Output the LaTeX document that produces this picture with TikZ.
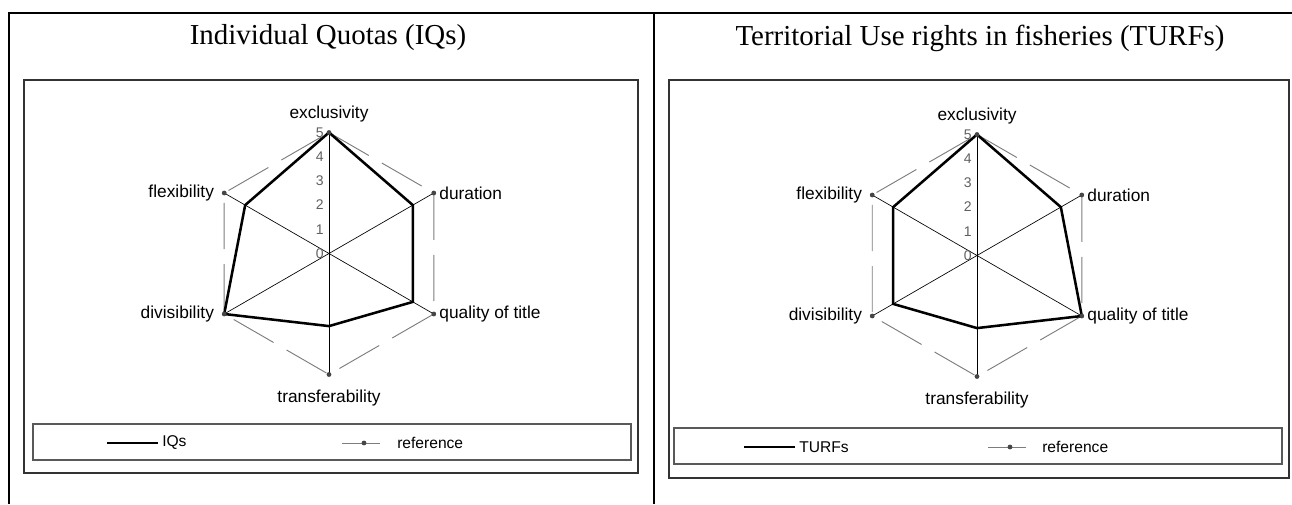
\documentclass[tikz,border=0pt]{standalone}
\usepackage{fontspec}
\setmainfont{Liberation Serif}
\setsansfont{Liberation Sans}
\usepackage{xcolor}
\definecolor{refgray}{RGB}{125,125,125}
\definecolor{markgray}{RGB}{70,70,70}
\definecolor{tickgray}{RGB}{95,95,95}
\usepackage{tikz}
\usetikzlibrary{positioning}
\tikzset{
  panel rule/.style={line width=0.9pt, black},
  chart frame/.style={draw, line width=1.2pt, black!80},
  legend frame/.style={draw, line width=0.8pt, black!65},
  radar spoke/.style={line width=0.5pt, black},
  radar data/.style={line width=1.9pt, black, line join=miter},
  radar ref/.style={line width=0.7pt, refgray, dash pattern=on 34.5pt off 11.25pt},
  ref mark/.style={circle, fill=markgray, inner sep=0pt, minimum size=3.6pt},
  radar label/.style={font=\sffamily\fontsize{13}{15}\selectfont, inner sep=0pt},
  tick label/.style={font=\sffamily\fontsize{10.5}{12}\selectfont, text=tickgray, inner sep=0pt, anchor=east},
  legend text/.style={font=\sffamily\fontsize{11.7}{14}\selectfont, inner sep=0pt, anchor=west},
  panel title/.style={font=\fontsize{21.7}{26}\selectfont, inner sep=0pt},
}

\begin{document}
\begin{tikzpicture}[x=0.75pt, y=0.75pt]
  \useasboundingbox (0,0) rectangle (1292,504);
  % table rules
  \draw[panel rule] (9,0) -- (9,491) -- (1292,491);
  \draw[panel rule] (654,0) -- (654,491);
  \node[panel title] (iq-title) at (328,466) {Individual Quotas (IQs)};
  \node[panel title] (turf-title) at (980,466) {Territorial Use rights in fisheries (TURFs)};
  % chart areas and legends
  \draw[chart frame] (24,31) rectangle (638,424);
  \draw[chart frame] (669,26) rectangle (1289,424);
  \draw[legend frame] (33,44) rectangle (631,80);
  \draw[legend frame] (674,40) rectangle (1282,76);

  % left chart: IQs
  \begin{scope}[shift={(329,250.5)}]
    \coordinate (iq-ex) at (90:121);
    \coordinate (iq-du) at (30:121);
    \coordinate (iq-qu) at (-30:121);
    \coordinate (iq-tr) at (-90:121);
    \coordinate (iq-di) at (210:121);
    \coordinate (iq-fl) at (150:121);
    \draw[radar spoke] (iq-ex) -- (iq-tr);
    \draw[radar spoke] (iq-du) -- (iq-di);
    \draw[radar spoke] (iq-qu) -- (iq-fl);
    \draw[radar ref] (iq-ex) -- (iq-du) -- (iq-qu) -- (iq-tr) -- (iq-di) -- (iq-fl) -- cycle;
    \draw[radar data] (90:121) -- (30:96.8) -- (-30:96.8) -- (-90:72.6) -- (210:121) -- (150:96.8) -- cycle;
    \foreach \v in {ex,du,qu,tr,di,fl}
      \node[ref mark] (iq-m-\v) at (iq-\v) {};
    \foreach \t in {0,...,5}
      \node[tick label] (iq-t\t) at (-5,24.2*\t) {\t};
    \node[radar label, above=7.4pt of iq-ex] (iq-lex) {exclusivity};
    \node[radar label, right=4pt of iq-du] (iq-ldu) {duration};
    \node[radar label, right=4pt of iq-qu] (iq-lqu) {quality of title};
    \node[radar label, below=11.2pt of iq-tr] (iq-ltr) {transferability};
    \node[radar label, left=7.5pt of iq-di] (iq-ldi) {divisibility};
    \node[radar label, left=7.5pt of iq-fl] (iq-lfl) {flexibility};
  \end{scope}

  % right chart: TURFs
  \begin{scope}[shift={(977,248.5)}]
    \coordinate (tu-ex) at (90:121);
    \coordinate (tu-du) at (30:121);
    \coordinate (tu-qu) at (-30:121);
    \coordinate (tu-tr) at (-90:121);
    \coordinate (tu-di) at (210:121);
    \coordinate (tu-fl) at (150:121);
    \draw[radar spoke] (tu-ex) -- (tu-tr);
    \draw[radar spoke] (tu-du) -- (tu-di);
    \draw[radar spoke] (tu-qu) -- (tu-fl);
    \draw[radar ref] (tu-ex) -- (tu-du) -- (tu-qu) -- (tu-tr) -- (tu-di) -- (tu-fl) -- cycle;
    \draw[radar data] (90:121) -- (30:96.8) -- (-30:121) -- (-90:72.6) -- (210:96.8) -- (150:96.8) -- cycle;
    \foreach \v in {ex,du,qu,tr,di,fl}
      \node[ref mark] (tu-m-\v) at (tu-\v) {};
    \foreach \t in {0,...,5}
      \node[tick label] (tu-t\t) at (-5,24.2*\t) {\t};
    \node[radar label, above=7.4pt of tu-ex] (tu-lex) {exclusivity};
    \node[radar label, right=4pt of tu-du] (tu-ldu) {duration};
    \node[radar label, right=4pt of tu-qu] (tu-lqu) {quality of title};
    \node[radar label, below=11.2pt of tu-tr] (tu-ltr) {transferability};
    \node[radar label, left=7.5pt of tu-di] (tu-ldi) {divisibility};
    \node[radar label, left=7.5pt of tu-fl] (tu-lfl) {flexibility};
  \end{scope}

  % legends
  \coordinate (iq-k1) at (107,61);
  \coordinate (iq-k2) at (158,61);
  \coordinate (iq-k3) at (342,61);
  \coordinate (iq-k4) at (380,61);
  \draw[radar data] (iq-k1) -- (iq-k2);
  \node[legend text] (iq-key) at (162,61) {IQs};
  \draw[refgray, line width=0.7pt] (iq-k3) -- (iq-k4);
  \node[ref mark] (iq-km) at (364,61) {};
  \node[legend text] (iq-kref) at (397,61) {reference};

  \coordinate (tu-k1) at (744,57);
  \coordinate (tu-k2) at (795,57);
  \coordinate (tu-k3) at (988,57);
  \coordinate (tu-k4) at (1026,57);
  \draw[radar data] (tu-k1) -- (tu-k2);
  \node[legend text] (tu-key) at (799,57) {TURFs};
  \draw[refgray, line width=0.7pt] (tu-k3) -- (tu-k4);
  \node[ref mark] (tu-km) at (1010,57) {};
  \node[legend text] (tu-kref) at (1042,57) {reference};
\end{tikzpicture}
\end{document}
